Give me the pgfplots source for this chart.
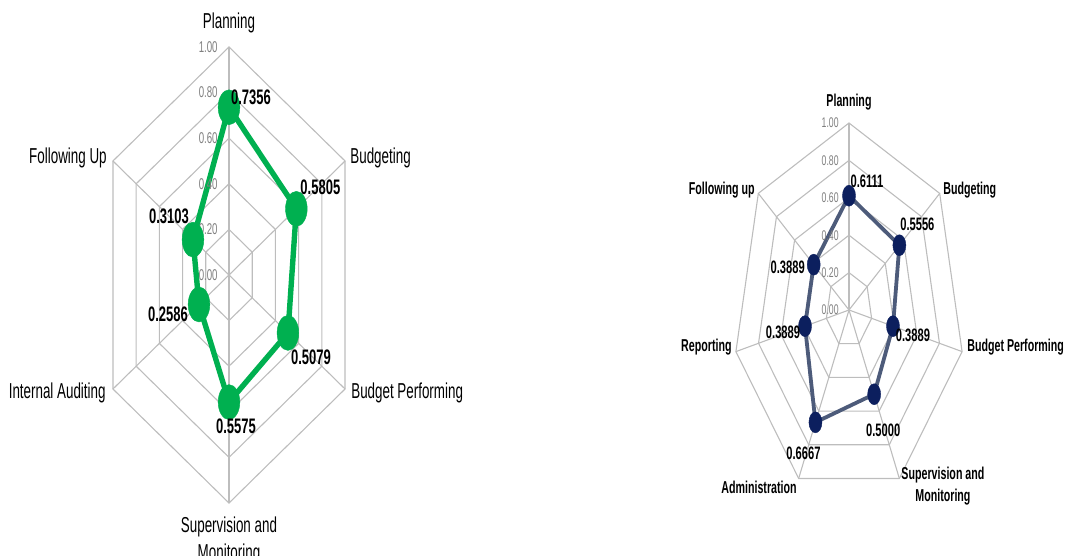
\documentclass[border=0pt]{standalone}
\usepackage{pgfplots}
\pgfplotsset{compat=1.18}
\usepackage{pgfplotstable}
\usepackage{fontspec}
\setmainfont[FakeStretch=0.62]{Liberation Sans}

\definecolor{radargreen}{HTML}{00B050}
\definecolor{gridgray}{HTML}{BDBDBD}
\definecolor{ticktext}{HTML}{7F7F7F}
\definecolor{navydot}{HTML}{0C1F5E}
\definecolor{slateline}{HTML}{4D5B7A}

% angle (deg), score, label offset (dx, dy in px)
\pgfplotstableread{
a      v      dx   dy
90     0.7356  22   10
30     0.5805  24   22
-30    0.5079  23  -24
-90    0.5575   7  -24
-150   0.2586 -31  -10
150    0.3103 -24   23
}\sixaxes

\pgfplotstableread{
a          v      dx   dy
90         0.6111  18   14
38.5714    0.5556  18   21
-12.8571   0.3889  20   -9
-64.2857   0.5000   9  -36
-115.7143  0.6667 -12  -31
-167.1429  0.3889 -22   -6
141.4286   0.3889 -26   -3
}\sevenaxes

\pgfplotsset{
  radar/.style={hide axis, clip=false, xmin=-1, xmax=1, ymin=-1, ymax=1,
    anchor=center, /pgf/number format/assume math mode=true},
  ring/.style={draw=gridgray, line width=0.55pt, mark=none},
  radarticks/.style={draw=none, mark=none, point meta=y,
    nodes near coords={\pgfmathprintnumber[fixed,fixed zerofill,precision=2]{\pgfplotspointmeta}},
    nodes near coords style={anchor=east, inner sep=0pt, xshift=#1, text=ticktext}},
  scoreplot/.style={
    point meta=\thisrow{v},
    visualization depends on={\thisrow{dx}\as\ldx},
    visualization depends on={\thisrow{dy}\as\ldy},
    nodes near coords={\pgfmathprintnumber[fixed,fixed zerofill,precision=4]{\pgfplotspointmeta}},
    nodes near coords style={anchor=center, inner sep=0pt,
      xshift={\ldx*0.5pt}, yshift={\ldy*0.5pt}, text=black}},
}

\begin{document}
\begin{tikzpicture}
\useasboundingbox (0,0) rectangle (533.5pt,278pt);

% ---------- six-dimension radar ----------
\begin{axis}[radar, at={(114.5pt,140.5pt)}, x=67pt, y=114pt]
  \pgfplotsinvokeforeach{0.2,0.4,0.6,0.8,1.0}{
    \addplot[ring] table[x expr={#1*cos(\thisrow{a})}, y expr={#1*sin(\thisrow{a})}] {\sixaxes} -- cycle;
  }
  \pgfplotsinvokeforeach{90,30,-30,-90,-150,150}{
    \addplot[ring] coordinates {(0,0) ({cos(#1)},{sin(#1)})};
  }
  \addplot[radarticks=-5.5pt, nodes near coords style={font=\fontsize{7.8}{9}\selectfont}]
    coordinates {(0,0) (0,0.2) (0,0.4) (0,0.6) (0,0.8) (0,1)};

  \addplot[scoreplot, draw=radargreen, line width=2.7pt, line join=round,
    mark=*, mark size=8.75pt,
    mark options={solid, draw=radargreen, fill=radargreen, line width=0.2pt, xscale=0.62},
    nodes near coords style={font=\fontsize{10.5}{12}\selectfont\bfseries}]
    table[x expr={\thisrow{v}*cos(\thisrow{a})}, y expr={\thisrow{v}*sin(\thisrow{a})}] {\sixaxes} -- cycle;

  \begin{scope}[every node/.style={inner sep=0pt, font=\fontsize{10.8}{13.5}\selectfont}]
    \node[anchor=center] at (axis cs:0,1.105) {Planning};
    \node[anchor=west] at (axis cs:0.903,0.513) {Budgeting};
    \node[anchor=west] at (axis cs:0.910,-0.518) {Budget Performing};
    \node[anchor=north, align=center] at (axis cs:0,-1.061) {Supervision and\\Monitoring};
    \node[anchor=east] at (axis cs:-0.918,-0.518) {Internal Auditing};
    \node[anchor=east] at (axis cs:-0.910,0.513) {Following Up};
  \end{scope}
\end{axis}

% ---------- seven-dimension radar ----------
\begin{axis}[radar, at={(424.5pt,123pt)}, x=58pt, y=93.5pt]
  \pgfplotsinvokeforeach{0.2,0.4,0.6,0.8,1.0}{
    \addplot[ring] table[x expr={#1*cos(\thisrow{a})}, y expr={#1*sin(\thisrow{a})}] {\sevenaxes} -- cycle;
  }
  \pgfplotsinvokeforeach{90,38.5714,-12.8571,-64.2857,-115.7143,-167.1429,141.4286}{
    \addplot[ring] coordinates {(0,0) ({cos(#1)},{sin(#1)})};
  }
  \addplot[radarticks=-5pt, nodes near coords style={font=\fontsize{7}{8.5}\selectfont}]
    coordinates {(0,0) (0,0.2) (0,0.4) (0,0.6) (0,0.8) (0,1)};

  \addplot[scoreplot, draw=slateline, line width=1.9pt, line join=round,
    mark=*, mark size=5.25pt,
    mark options={solid, draw=navydot, fill=navydot, line width=0.2pt, xscale=0.62},
    nodes near coords style={font=\fontsize{9}{11}\selectfont\bfseries}]
    table[x expr={\thisrow{v}*cos(\thisrow{a})}, y expr={\thisrow{v}*sin(\thisrow{a})}] {\sevenaxes} -- cycle;

  \begin{scope}[every node/.style={inner sep=0pt, font=\fontsize{8.6}{11}\selectfont\bfseries}]
    \node[anchor=center] at (axis cs:0,1.112) {Planning};
    \node[anchor=west] at (axis cs:0.810,0.642) {Budgeting};
    \node[anchor=west] at (axis cs:1.017,-0.198) {Budget Performing};
    \node[anchor=north, align=center] at (axis cs:0.810,-0.840) {Supervision and\\Monitoring};
    \node[anchor=east] at (axis cs:-0.448,-0.947) {Administration};
    \node[anchor=east] at (axis cs:-1.009,-0.198) {Reporting};
    \node[anchor=east] at (axis cs:-0.810,0.642) {Following up};
  \end{scope}
\end{axis}
\end{tikzpicture}
\end{document}
